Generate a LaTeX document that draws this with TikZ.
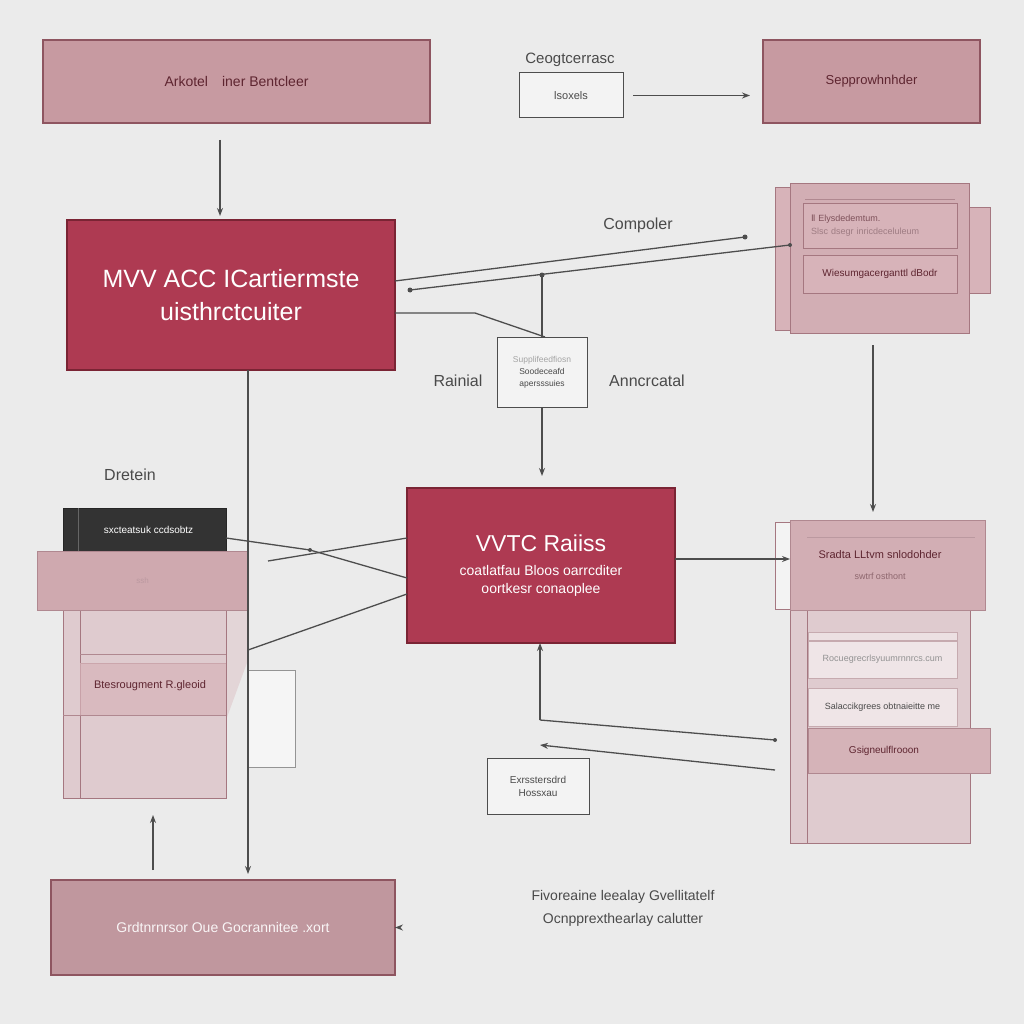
\documentclass[tikz,border=0pt]{standalone}
\usepackage{fontspec}
\setmainfont{Liberation Sans}
\newfontfamily\dejavu{DejaVu Sans}
\usetikzlibrary{arrows.meta}
\definecolor{bgc}{HTML}{EBEBEB}
\definecolor{crim}{HTML}{AE3A52}
\definecolor{crimd}{HTML}{7A2434}
\definecolor{pinkf}{HTML}{C79AA1}
\definecolor{pinkd}{HTML}{8E5560}
\definecolor{pinkl}{HTML}{D7B3B9}
\definecolor{pinkll}{HTML}{DFCBCF}
\definecolor{maroon}{HTML}{5E2530}
\definecolor{lblg}{HTML}{4A4A4A}
\definecolor{lineg}{HTML}{4D4D4D}
\tikzset{
  box/.style={anchor=north west, inner sep=0pt, outer sep=0pt, align=center},
  pinkbox/.style={box, fill=pinkf, draw=pinkd, line width=1.2pt, text=maroon},
  crimbox/.style={box, fill=crim, draw=crimd, line width=1.2pt, text=white},
  whitebox/.style={box, fill=bgc!60!white, draw=lineg, line width=1pt, text=lblg},
  lbl/.style={text=lblg, inner sep=0pt},
  conn/.style={draw=lineg, line width=1.3pt},
  arr/.style={conn, -{Stealth[length=8pt,width=6pt]}},
  panel/.style={draw=pinkd!80, line width=0.9pt},
}
\begin{document}
\begin{tikzpicture}[x=1pt,y=-1pt]
\useasboundingbox (0,0) rectangle (1024,1024);
\fill[bgc] (0,0) rectangle (1024,1024);

% ---------- top row ----------
\node[pinkbox, minimum width=387pt, minimum height=83pt, font=\fontsize{14}{16}\selectfont] (tl) at (43,40) {Arkotel\quad iner Bentcleer};
\node[lbl, font=\fontsize{15}{17}\selectfont] (ceo) at (570,60) {Ceogtcerrasc};
\node[whitebox, minimum width=104pt, minimum height=45pt, font=\fontsize{11}{13}\selectfont] (lsm) at (519,73) {lsoxels};
\node[pinkbox, minimum width=217pt, minimum height=83pt, font=\fontsize{13}{15}\selectfont] (tr) at (763,40) {Sepprowhnhder};

% ---------- main crimson box ----------
\node[crimbox, minimum width=328pt, minimum height=150pt, font=\fontsize{25}{33}\selectfont] (mainn) at (67,220) {MVV ACC ICartiermste\\uisthrctcuiter};
\node[lbl, font=\fontsize{16}{18}\selectfont] (comp) at (638,225) {Compoler};

% small middle box
\node[whitebox, minimum width=90pt, minimum height=70pt, font=\fontsize{8.5}{12}\selectfont] (sbox) at (497,337) {{\color{lblg!50}Supplifeedfiosn}\\Soodeceafd\\apersssuies};
\node[lbl, font=\fontsize{16}{18}\selectfont] (rain) at (458,381) {Rainial};
\node[lbl, font=\fontsize{16}{18}\selectfont] (anc) at (647,381) {Anncrcatal};

% ---------- right top panel ----------
\draw[panel, fill=pinkl] (775,187) rectangle (790,330);
\draw[panel, fill=pinkl] (955,207) rectangle (990,293);
\node[box, panel, fill=pinkf!80!white, minimum width=179pt, minimum height=150pt] (rt) at (790,183) {};
\draw[pinkd!70, line width=1pt] (805,200) -- (955,200);
\node[box, panel, fill=pinkl, minimum width=154pt, minimum height=45pt, text=maroon!80, font=\fontsize{9}{13}\selectfont, align=left, text width=146pt] (rt1) at (803,203) {\hspace*{4pt}{\dejavu Ⅱ} Elysdedemtum.\\\hspace*{4pt}{\color{maroon!60}Slsc dsegr inricdeceluleum}};
\node[box, panel, fill=pinkl, minimum width=154pt, minimum height=38pt, text=maroon, font=\fontsize{10}{12}\selectfont] (rt2) at (803,255) {Wiesumgacerganttl dBodr};

% ---------- left stack ----------
\node[lbl, font=\fontsize{16}{18}\selectfont] (dret) at (130,475) {Dretein};
\fill[pinkll!70!bgc] (226,600) -- (248,600) -- (248,660) -- (226,720) -- cycle;
\node[box, panel, fill=pinkll, minimum width=163pt, minimum height=188pt] (lpan) at (63,610) {};
\draw[panel, fill=pinkll] (63,610) rectangle (80,798);
\draw[pinkd!70, line width=0.8pt] (80,654) -- (226,654) (80,663) -- (226,663) (63,715) -- (226,715);
\fill[pinkl, opacity=0.7] (80,663) rectangle (226,715);
\node[lbl, text=maroon, font=\fontsize{11}{13}\selectfont] (btes) at (150,686) {Btesrougment R.gleoid};
\node[box, fill=black!80, draw=black!85, minimum width=163pt, minimum height=43pt, text=white, font=\fontsize{10}{12}\selectfont] (dark) at (63,508) {\hspace*{8pt}sxcteatsuk ccdsobtz};
\draw[black!60, line width=0.6pt] (78,508) -- (78,551);
\node[box, fill=pinkf!85!white, draw=pinkd!70, line width=0.8pt, minimum width=211pt, minimum height=59pt, text=pinkd!60, font=\fontsize{8}{10}\selectfont] (band) at (37,551) {ssh};
\node[box, fill=bgc!50!white, draw=lineg!60, line width=0.8pt, minimum width=47pt, minimum height=97pt] (lrect) at (248,670) {};

% ---------- VTC box ----------
\node[crimbox, minimum width=268pt, minimum height=155pt, font=\fontsize{14}{18}\selectfont] (vtc) at (407,488) {{\fontsize{23}{30}\selectfont VVTC Raiiss}\\[6pt]coatlatfau Bloos oarrcditer\\oortkesr conaoplee};

% ---------- right bottom panel ----------
\draw[panel, fill=bgc!60!white] (775,522) rectangle (790,609);
\node[box, panel, fill=pinkll, minimum width=180pt, minimum height=323pt] (rb) at (790,520) {};
\draw[panel] (807,540) -- (807,843);
\node[box, fill=pinkf!80!white, draw=pinkd!70, line width=0.9pt, minimum width=195pt, minimum height=90pt, text=maroon, font=\fontsize{11}{13}\selectfont] (rbtop) at (790,520) {\hspace*{-15pt}Sradta LLtvm snlodohder\\[8pt]\hspace*{-15pt}{\fontsize{9}{11}\selectfont\color{maroon!70}swtrf osthont}};
\draw[pinkd!60, line width=1pt] (807,537) -- (975,537);
\draw[pinkd!50, line width=0.8pt, fill=pinkll!60!white] (808,632) rectangle (957,640);
\node[box, draw=pinkd!50, line width=0.8pt, fill=pinkll!50!white, minimum width=149pt, minimum height=37pt, text=lblg!60, font=\fontsize{9}{11}\selectfont] (rbb) at (808,641) {Rocuegrecrlsyuumrnnrcs.cum};
\node[box, draw=pinkd!50, line width=0.8pt, fill=pinkll!50!white, minimum width=149pt, minimum height=38pt, text=lblg, font=\fontsize{9}{11}\selectfont] (rbc) at (808,688) {Salaccikgrees obtnaieitte me};
\node[box, fill=pinkf!75!white, draw=pinkd!70, line width=0.9pt, minimum width=182pt, minimum height=45pt, text=maroon, font=\fontsize{10}{12}\selectfont] (rbd) at (808,728) {\hspace*{-30pt}Gsigneulflrooon};

% small box bottom middle
\node[whitebox, minimum width=102pt, minimum height=56pt, font=\fontsize{10}{13}\selectfont] (ebox) at (487,758) {Exrsstersdrd\\Hossxau};

\node[lbl, align=center, font=\fontsize{14}{23}\selectfont] (fivo) at (623,908) {Fivoreaine leealay Gvellitatelf\\Ocnpprexthearlay calutter};

% bottom-left box
\node[pinkbox, fill=pinkf!90!gray, minimum width=344pt, minimum height=95pt, text=white!90!pinkf, font=\fontsize{14}{16}\selectfont] (bl) at (51,880) {Grdtnrnrsor Oue Gocrannitee .xort};

% ---------- connectors ----------
\draw[arr, shorten <=17pt, shorten >=4pt] ([xshift=-16.5pt]tl.south) -- ([xshift=-11pt]mainn.north);
\draw[arr, shorten <=10pt, shorten >=13pt] (lsm.east) -- (lsm.east -| tr.west);

\coordinate (c1) at (745,237);
\coordinate (c2a) at (410,290);
\coordinate (c2b) at (rt.west |- 0,245);
\coordinate (cj) at (542,275);
\coordinate (ck) at (475,313);
\draw[conn] (mainn.east |- 0,281) -- (c1);
\fill[lineg] (c1) circle (2.5pt);
\draw[conn] (c2a) -- (c2b);
\fill[lineg] (c2a) circle (2.5pt) (c2b) circle (2pt) (cj) circle (2.5pt);
\draw[conn] (mainn.east |- 0,313) -- (ck) -- ([xshift=3pt]sbox.north);
\draw[conn] (cj) -- (cj |- sbox.north);
\draw[arr, shorten <=1pt, shorten >=12pt] (sbox.south) -- (sbox.south |- vtc.north);

\draw[arr, shorten <=12pt, shorten >=8pt] ([xshift=-6.5pt]rt.south) -- ([xshift=-7pt]rb.north);

\draw[arr, shorten >=6pt] ([xshift=17pt]mainn.south) -- ([xshift=17pt]mainn.south |- bl.north);
\draw[arr, shorten <=10pt, shorten >=17pt] ([xshift=-70pt]bl.north) -- ([xshift=-70pt]bl.north |- lpan.south);
\draw[arr, shorten <=20pt] (bl.east) ++(20pt,0) -- (bl.east);

% left stack to VTC
\coordinate (lm) at (310,550);
\coordinate (lf) at (268,561);
\draw[conn] (dark.east |- 0,538) -- (lm) -- (vtc.west |- 0,578);
\draw[conn] (vtc.west |- 0,538) -- (lf);
\fill[lineg] (lm) circle (2pt);
\draw[conn] (248,650) -- (vtc.west |- 0,594);

\draw[arr] (vtc.east |- 0,559) -- (rb.west |- 0,559);

\coordinate (vb) at (540,720);
\draw[arr] (vb) -- (vb |- vtc.south);
\draw[conn] (vb) -- (775,740);
\fill[lineg] (775,740) circle (2pt);
\coordinate (vl) at (540,745);
\draw[arr] (775,770) -- (vl);
\end{tikzpicture}
\end{document}
